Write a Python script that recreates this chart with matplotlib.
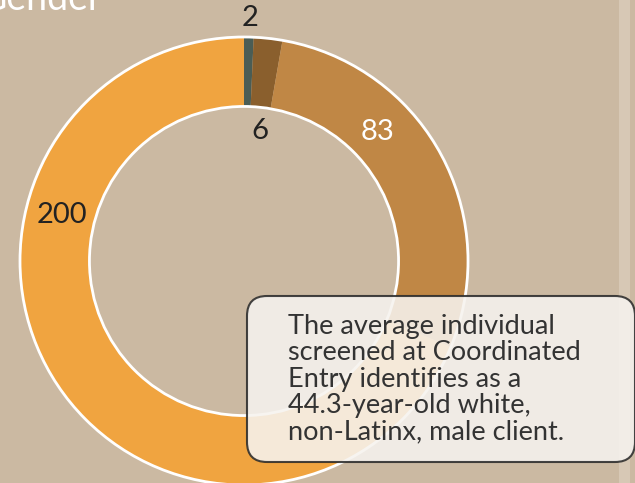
import matplotlib.pyplot as plt
from matplotlib.patches import FancyBboxPatch, Rectangle, Circle

# gender counts, clockwise from the top
counts = [2, 6, 83, 200]
labels = ['2', '6', '83', '200']
colors = ['#4a5d55', '#8a5f2d', '#c08745', '#f0a440']

# where each count label sits (pixels from top-left) and its colour
label_pos = [(250, 18), (260, 131), (378, 132), (62, 215)]
label_col = ['#222222', '#222222', 'white', '#222222']

note = ("The average individual\n"
        "screened at Coordinated\n"
        "Entry identifies as a\n"
        "44.3-year-old white,\n"
        "non-Latinx, male client.")

W, H = 635, 483
bg = '#cbb9a2'

plt.rcParams['font.family'] = ['Lato', 'DejaVu Sans']

fig = plt.figure(figsize=(W / 100, H / 100), dpi=100, facecolor=bg)
ax = fig.add_axes([0, 0, 1, 1])
ax.set_facecolor(bg)

# light stripe at the right edge
ax.add_patch(Rectangle((619, 0), 11, H, color='#d7c8b5', lw=0, zorder=0))

cx, cy, r = 244, H - 261, 224
ring = r * 0.31
ax.pie(counts, colors=colors, startangle=90, counterclock=False,
       center=(cx, cy), radius=r,
       wedgeprops=dict(width=ring, linewidth=0))
# white outline only on the outer and inner rims
for rad in (r, r - ring):
    ax.add_patch(Circle((cx, cy), rad, fill=False, edgecolor='white',
                        linewidth=2, zorder=3))

for (x, y), t, c in zip(label_pos, labels, label_col):
    ax.text(x, H - y, t, fontsize=21, color=c, ha='center', va='center',
            zorder=4)

# title, cut by the top-left corner
ax.text(102, H - 10, 'Gender', fontsize=27, color='white', ha='right',
        va='baseline')

box = FancyBboxPatch((247, H - 462), 388, 166,
                     boxstyle='round,pad=0,rounding_size=20',
                     facecolor='#f6f3ef', alpha=0.88, edgecolor='#2b2b2b',
                     linewidth=1.5, zorder=5)
ax.add_patch(box)
ax.text(288, H - 314, note, fontsize=19.5, color='#333333', ha='left',
        va='top', linespacing=1.07, zorder=6)

ax.set_xlim(0, W)
ax.set_ylim(0, H)
ax.set_aspect('equal')
ax.axis('off')

fig.savefig('out.png', dpi=100, facecolor=bg)
